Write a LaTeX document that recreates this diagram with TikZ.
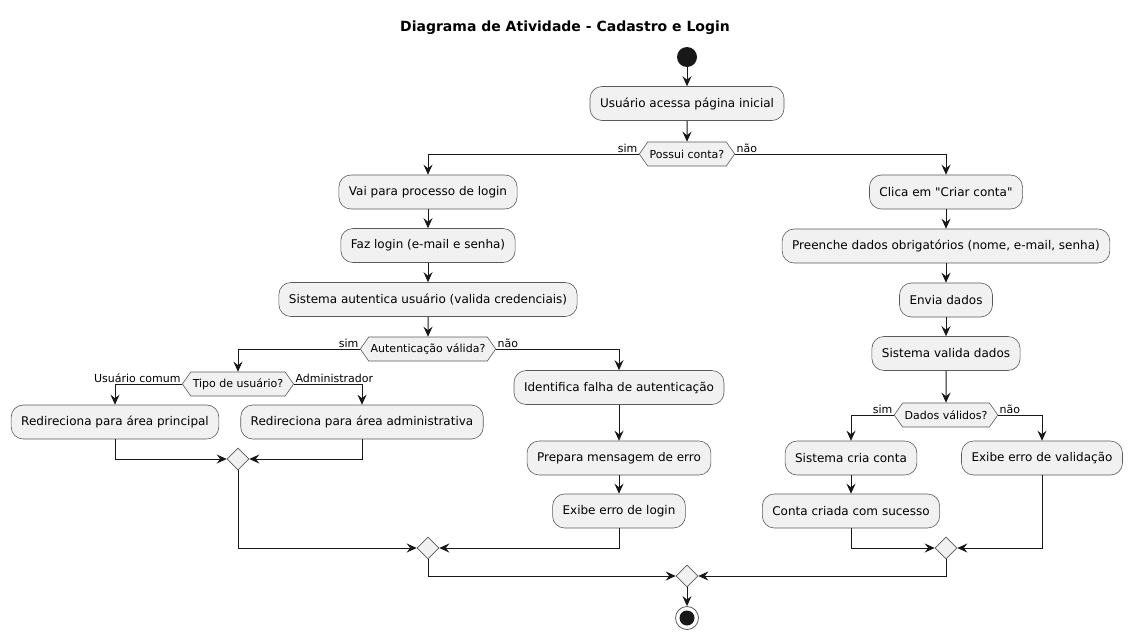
\documentclass[tikz,border=0pt]{standalone}
\usepackage{fontspec}
\setmainfont{DejaVu Sans}
\usetikzlibrary{arrows.meta,shapes.symbols,shapes.geometric}
\definecolor{boxfill}{HTML}{F1F1F1}
\definecolor{boxline}{HTML}{5A5A5A}
\definecolor{ink}{HTML}{181818}
\begin{document}
\begin{tikzpicture}[x=1pt,y=-1pt,
  act/.style={draw=boxline, line width=0.6pt, fill=boxfill, rounded corners=12pt,
    minimum height=34pt, inner xsep=10pt, font=\fontsize{12}{14}\selectfont},
  dec/.style={signal, signal to=west and east, signal pointer angle=110,
    draw=boxline, line width=0.6pt, fill=boxfill, minimum height=24pt,
    inner xsep=2pt, inner ysep=2pt, font=\fontsize{11}{13}\selectfont},
  merge/.style={diamond, draw=boxline, line width=0.6pt, fill=boxfill,
    minimum size=22pt, inner sep=0pt},
  arr/.style={draw=ink, line width=1pt, -{Stealth[length=10pt,width=9pt,inset=3.5pt]}},
  lbl/.style={font=\fontsize{11}{13}\selectfont, inner sep=1pt}
]
\useasboundingbox (0,0) rectangle (1132,640);

\node[font=\fontsize{14}{16}\selectfont\bfseries] (title) at (565,28) {Diagrama de Atividade - Cadastro e Login};

\node[circle, fill=ink, minimum size=20pt, inner sep=0pt] (start) at (687,57) {};
\node[act] (a1) at (687,103.5) {Usuário acessa página inicial};
\node[dec] (d1) at (687,154) {Possui conta?};

% left branch
\node[act] (l1) at (428,192) {Vai para processo de login};
\node[act] (l2) at (428,245.5) {Faz login (e-mail e senha)};
\node[act] (l3) at (428,299.5) {Sistema autentica usuário (valida credenciais)};
\node[dec] (d2) at (428,349) {Autenticação válida?};
\node[dec] (d3) at (238,384) {Tipo de usuário?};
\node[act] (u1) at (115,422) {Redireciona para área principal};
\node[act] (u2) at (362,422) {Redireciona para área administrativa};
\node[merge] (m1) at (238,459) {};
\node[act] (e1) at (619,387.5) {Identifica falha de autenticação};
\node[act] (e2) at (619,458) {Prepara mensagem de erro};
\node[act] (e3) at (619,511) {Exibe erro de login};
\node[merge] (m2) at (428,548) {};

% right branch
\node[act] (r1) at (946,192) {Clica em \textquotedbl Criar conta\textquotedbl};
\node[act] (r2) at (946,246) {Preenche dados obrigatórios (nome, e-mail, senha)};
\node[act] (r3) at (946,300) {Envia dados};
\node[act] (r4) at (946,353.5) {Sistema valida dados};
\node[dec] (d4) at (946,415) {Dados válidos?};
\node[act] (s1) at (851,458) {Sistema cria conta};
\node[act] (s2) at (851,511) {Conta criada com sucesso};
\node[act] (v1) at (1042,458) {Exibe erro de validação};
\node[merge] (m3) at (946,548) {};

\node[merge] (m4) at (687,576) {};
\node[circle, draw=boxline, line width=0.8pt, fill=white, minimum size=23pt, inner sep=0pt] (end) at (687,618) {};
\node[circle, fill=ink, minimum size=15pt, inner sep=0pt] at (end) {};

% connectors
\draw[arr] (start) -- (a1);
\draw[arr] (a1) -- (d1);
\draw[arr] (d1.west) node[lbl, anchor=south east] {sim} -| (l1.north);
\draw[arr] (d1.east) node[lbl, anchor=south west] {não} -| (r1.north);

\draw[arr] (l1) -- (l2);
\draw[arr] (l2) -- (l3);
\draw[arr] (l3) -- (d2);
\draw[arr] (d2.west) node[lbl, anchor=south east] {sim} -| (d3.north);
\draw[arr] (d2.east) node[lbl, anchor=south west] {não} -| (e1.north);
\draw[arr] (d3.west) node[lbl, anchor=south east] {Usuário comum} -| (u1.north);
\draw[arr] (d3.east) node[lbl, anchor=south west] {Administrador} -| (u2.north);
\draw[arr] (u1.south) |- (m1.west);
\draw[arr] (u2.south) |- (m1.east);
\draw[arr] (e1) -- (e2);
\draw[arr] (e2) -- (e3);
\draw[arr] (m1.south) |- (m2.west);
\draw[arr] (e3.south) |- (m2.east);

\draw[arr] (r1) -- (r2);
\draw[arr] (r2) -- (r3);
\draw[arr] (r3) -- (r4);
\draw[arr] (r4) -- (d4);
\draw[arr] (d4.west) node[lbl, anchor=south east] {sim} -| (s1.north);
\draw[arr] (d4.east) node[lbl, anchor=south west] {não} -| (v1.north);
\draw[arr] (s1) -- (s2);
\draw[arr] (s2.south) |- (m3.west);
\draw[arr] (v1.south) |- (m3.east);

\draw[arr] (m2.south) |- (m4.west);
\draw[arr] (m3.south) |- (m4.east);
\draw[arr] (m4) -- (end);
\end{tikzpicture}
\end{document}
